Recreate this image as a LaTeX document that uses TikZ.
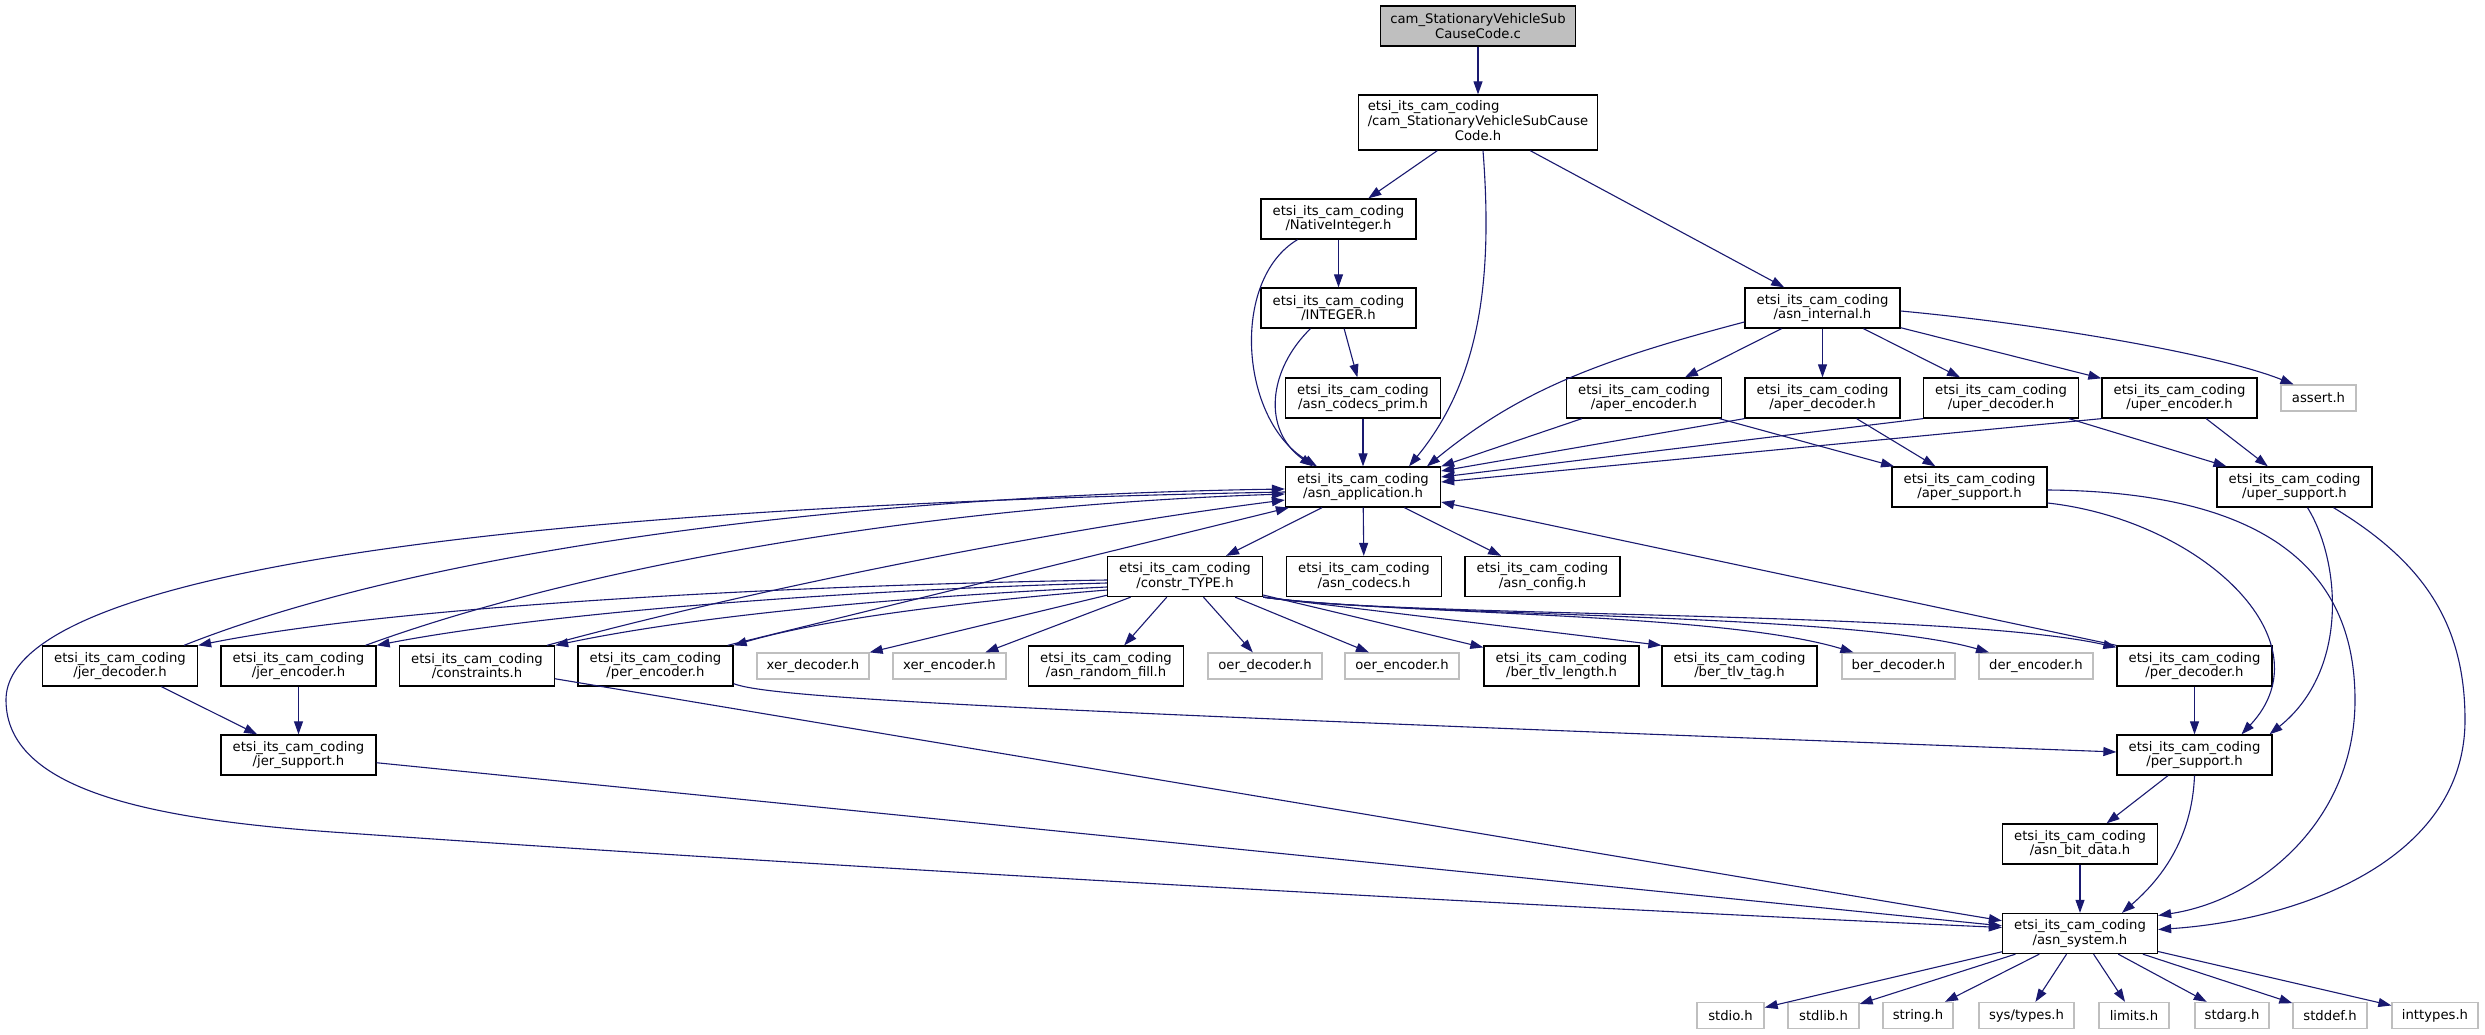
\documentclass[tikz,border=0pt]{standalone}
\usepackage{fontspec}
\setmainfont{DejaVu Sans}
\usetikzlibrary{arrows.meta}
\definecolor{edgeblue}{HTML}{191970}
\definecolor{extgray}{HTML}{BFBFBF}
\begin{document}
\begin{tikzpicture}[x=1pt,y=-1pt,
  box/.style={draw=black, line width=1.3pt, fill=white, inner sep=0pt, minimum width=155pt, minimum height=40pt, align=center, font=\fontsize{13.2}{14.7}\selectfont},
  ext/.style={draw=extgray, line width=1.3pt, fill=white, inner sep=0pt, minimum height=26pt, font=\fontsize{13.2}{14.7}\selectfont},
  edge/.style={draw=edgeblue, line width=1.1pt, -{Triangle[length=13pt,width=9pt]}}]
\fill[white] (0,0) rectangle (2485,1035);
\useasboundingbox (0,0) rectangle (2485,1035);

% nodes
\node[box, fill=extgray, minimum width=195pt] (cfile) at (1478,26) {cam\_StationaryVehicleSub\\CauseCode.c};
\node[box, minimum width=239pt, minimum height=55pt] (causeh) at (1478,122.5) {\begin{tabular}{@{}l@{}}etsi\_its\_cam\_coding\\/cam\_StationaryVehicleSubCause\\\multicolumn{1}{@{}c@{}}{Code.h}\end{tabular}};
\node[box] (native) at (1338.5,219) {etsi\_its\_cam\_coding\\/NativeInteger.h};
\node[box] (integer) at (1338.5,308) {etsi\_its\_cam\_coding\\/INTEGER.h};
\node[box] (codecsprim) at (1363,398) {etsi\_its\_cam\_coding\\/asn\_codecs\_prim.h};
\node[box] (asninternal) at (1822.5,308) {etsi\_its\_cam\_coding\\/asn\_internal.h};
\node[box] (aperenc) at (1644,398) {etsi\_its\_cam\_coding\\/aper\_encoder.h};
\node[box] (aperdec) at (1822.5,398) {etsi\_its\_cam\_coding\\/aper\_decoder.h};
\node[box] (uperdec) at (2001,398) {etsi\_its\_cam\_coding\\/uper\_decoder.h};
\node[box] (uperenc) at (2179.5,398) {etsi\_its\_cam\_coding\\/uper\_encoder.h};
\node[ext, minimum width=75pt] (assert) at (2318.5,398) {assert.h};
\node[box] (asnapp) at (1363,487) {etsi\_its\_cam\_coding\\/asn\_application.h};
\node[box] (apersup) at (1969.5,487) {etsi\_its\_cam\_coding\\/aper\_support.h};
\node[box] (upersup) at (2294.5,487) {etsi\_its\_cam\_coding\\/uper\_support.h};
\node[box] (constr) at (1185,576.5) {etsi\_its\_cam\_coding\\/constr\_TYPE.h};
\node[box] (codecs) at (1364,576.5) {etsi\_its\_cam\_coding\\/asn\_codecs.h};
\node[box] (config) at (1542.5,576.5) {etsi\_its\_cam\_coding\\/asn\_config.h};
\node[box] (jerdec) at (120,666) {etsi\_its\_cam\_coding\\/jer\_decoder.h};
\node[box] (jerenc) at (298.5,666) {etsi\_its\_cam\_coding\\/jer\_encoder.h};
\node[box] (constraints) at (477,666) {etsi\_its\_cam\_coding\\/constraints.h};
\node[box] (perenc) at (655.5,666) {etsi\_its\_cam\_coding\\/per\_encoder.h};
\node[ext, minimum width=112pt] (xerdec) at (813,666) {xer\_decoder.h};
\node[ext, minimum width=113pt] (xerenc) at (949.5,666) {xer\_encoder.h};
\node[box] (randfill) at (1106,666) {etsi\_its\_cam\_coding\\/asn\_random\_fill.h};
\node[ext, minimum width=114pt] (oerdec) at (1265,666) {oer\_decoder.h};
\node[ext, minimum width=114pt] (oerenc) at (1402,666) {oer\_encoder.h};
\node[box] (bertlvlen) at (1561.5,666) {etsi\_its\_cam\_coding\\/ber\_tlv\_length.h};
\node[box] (bertlvtag) at (1739.5,666) {etsi\_its\_cam\_coding\\/ber\_tlv\_tag.h};
\node[ext, minimum width=113pt] (berdec) at (1898.5,666) {ber\_decoder.h};
\node[ext, minimum width=114pt] (derenc) at (2036,666) {der\_encoder.h};
\node[box] (perdec) at (2194.5,666) {etsi\_its\_cam\_coding\\/per\_decoder.h};
\node[box] (jersup) at (298.5,755) {etsi\_its\_cam\_coding\\/jer\_support.h};
\node[box] (persup) at (2194.5,755) {etsi\_its\_cam\_coding\\/per\_support.h};
\node[box] (asnbit) at (2080,844) {etsi\_its\_cam\_coding\\/asn\_bit\_data.h};
\node[box] (asnsys) at (2080,933.5) {etsi\_its\_cam\_coding\\/asn\_system.h};
\node[ext, minimum width=67pt] (stdio) at (1730.5,1015.5) {stdio.h};
\node[ext, minimum width=71pt] (stdlib) at (1823.5,1015.5) {stdlib.h};
\node[ext, minimum width=70pt] (string) at (1918,1015.5) {string.h};
\node[ext, minimum width=95pt] (systypes) at (2026.5,1015.5) {sys/types.h};
\node[ext, minimum width=70pt] (limits) at (2134,1015.5) {limits.h};
\node[ext, minimum width=74pt] (stdarg) at (2232,1015.5) {stdarg.h};
\node[ext, minimum width=74pt] (stddef) at (2330,1015.5) {stddef.h};
\node[ext, minimum width=86pt] (inttypes) at (2435,1015.5) {inttypes.h};

% edges: top part
\draw[edge] (cfile) -- (causeh);
\draw[edge] (causeh) -- (native);
\draw[edge] ([xshift=5pt]causeh.south) .. controls (1493,280) and (1480,380) .. ([xshift=46pt]asnapp.north);
\draw[edge] (causeh) -- (asninternal);
\draw[edge] (native) -- (integer);
\draw[edge] ([xshift=-41pt]native.south) .. controls (1230,280) and (1240,420) .. ([xshift=-46pt]asnapp.north);
\draw[edge] ([xshift=-28pt]integer.south) .. controls (1268,370) and (1262,430) .. ([xshift=-50pt]asnapp.north);
\draw[edge] (integer) -- (codecsprim);
\draw[edge] (codecsprim) -- (asnapp);
\draw[edge] ([yshift=-14pt]asninternal.west) .. controls (1600,360) and (1520,390) .. ([xshift=64pt]asnapp.north);
\draw[edge] (asninternal) -- (aperenc);
\draw[edge] (asninternal) -- (aperdec);
\draw[edge] (asninternal) -- (uperdec);
\draw[edge] (asninternal) -- (uperenc);
\draw[edge] ([yshift=-3pt]asninternal.east) .. controls (2050,325) and (2220,355) .. ([xshift=-25pt]assert.north);
\draw[edge] ([xshift=16pt]aperenc.south west) -- (asnapp.north east);
\draw[edge] (aperenc) -- (apersup);
\draw[edge] (aperdec.south west) -- ([yshift=16pt]asnapp.east);
\draw[edge] (aperdec) -- (apersup);
\draw[edge] (uperdec.south west) -- ([yshift=10pt]asnapp.east);
\draw[edge] (uperdec) -- (upersup);
\draw[edge] (uperenc.south west) -- ([yshift=5pt]asnapp.east);
\draw[edge] (uperenc) -- (upersup);

% support curves on the right
\draw[edge] ([yshift=-16pt]apersup.east) .. controls (2200,520) and (2330,640) .. ([xshift=47pt]persup.north);
\draw[edge] ([yshift=-3pt]apersup.east) .. controls (2280,492) and (2355,580) .. (2355,700) .. controls (2355,820) and (2260,900) .. ([yshift=18pt]asnsys.east);
\draw[edge] ([xshift=13pt]upersup.south) .. controls (2340,560) and (2350,670) .. ([xshift=75pt]persup.north);
\draw[edge] ([xshift=39pt]upersup.south) .. controls (2420,560) and (2465,620) .. (2465,720) .. controls (2465,860) and (2300,920) .. ([yshift=4pt]asnsys.east);
\draw[edge] (persup) -- (asnbit);
\draw[edge] (persup.south) .. controls (2192,840) and (2160,880) .. ([xshift=42pt]asnsys.north);
\draw[edge] (asnbit) -- (asnsys);
\draw[edge] (perdec) -- (persup);
\draw[edge] ([yshift=3pt]perenc.south east) .. controls (770,698) and (1000,710) .. ([yshift=3pt]persup.west);
\draw[edge] (constraints) -- (asnsys);
\draw[edge] (jersup) -- (asnsys);
\draw[edge] ([yshift=-5pt]asnapp.west) .. controls (600,505) and (6,560) .. (6,700) .. controls (6,790) and (150,819) .. (332,832) .. controls (800,865) and (1500,905) .. ([yshift=6pt]asnsys.west);

% asn_application children
\draw[edge] (asnapp) -- (constr);
\draw[edge] (asnapp) -- (codecs);
\draw[edge] (asnapp) -- (config);
\draw[edge] (perdec.north west) -- ([yshift=-15pt]asnapp.east);

% constr_TYPE children
\draw[edge] (constr) -- (xerdec);
\draw[edge] (constr) -- (xerenc);
\draw[edge] (constr) -- (randfill);
\draw[edge] (constr) -- (oerdec);
\draw[edge] (constr) -- (oerenc);
\draw[edge] (constr) -- (bertlvlen);
\draw[edge] (constr.south east) -- (bertlvtag.north west);
\draw[edge] (constr.south east) .. controls (1400,615) and (1720,612) .. (berdec);
\draw[edge] (constr.south east) .. controls (1400,617) and (1850,612) .. (derenc);
\draw[edge] (constr.south east) .. controls (1400,618) and (1950,610) .. ([yshift=-2pt]perdec.north west);
\draw[edge] ([yshift=-3.5pt]constr.west) .. controls (800,585) and (400,605) .. (jerdec.north east);
\draw[edge] ([yshift=-6.5pt]constr.west) .. controls (850,590) and (550,612) .. (jerenc.north east);
\draw[edge] ([yshift=-10.5pt]constr.west) .. controls (900,597) and (700,615) .. (constraints.north east);
\draw[edge] ([yshift=-13.5pt]constr.west) .. controls (950,603) and (820,620) .. (perenc.north east);

% back to asn_application
\draw[edge] ([xshift=64pt]jerdec.north) .. controls (450,540) and (900,495) .. ([yshift=-2pt]asnapp.west);
\draw[edge] ([xshift=67pt]jerenc.north) .. controls (600,560) and (950,505) .. ([yshift=-7pt]asnapp.west);
\draw[edge] ([xshift=70pt]constraints.north) .. controls (750,590) and (1050,530) .. ([yshift=-13pt]asnapp.west);
\draw[edge] ([xshift=-6pt]perenc.north east) -- ([xshift=4pt]asnapp.south west);

% jer support
\draw[edge] (jerdec) -- (jersup);
\draw[edge] (jerenc) -- (jersup);

% system headers
\draw[edge] (asnsys) -- (stdio);
\draw[edge] (asnsys) -- (stdlib);
\draw[edge] (asnsys) -- (string);
\draw[edge] (asnsys) -- (systypes);
\draw[edge] (asnsys) -- (limits);
\draw[edge] (asnsys) -- (stdarg);
\draw[edge] (asnsys) -- (stddef);
\draw[edge] (asnsys) -- (inttypes);
\end{tikzpicture}
\end{document}
